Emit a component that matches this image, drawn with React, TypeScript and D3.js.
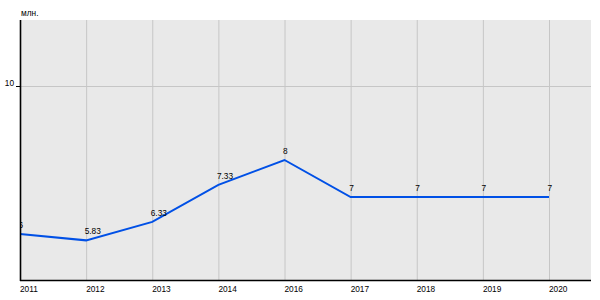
import React from "react";
import * as d3 from "d3";

const categories = ["2011", "2012", "2013", "2014", "2016", "2017", "2018", "2019", "2020"];
const values = [6, 5.83, 6.33, 7.33, 8, 7, 7, 7, 7];
const valueLabels = ["6", "5.83", "6.33", "7.33", "8", "7", "7", "7", "7"];
const yTicks = [10];
const yDomain = [4.76, 11.78];
const unitLabel = "млн.";

const W = 600;
const H = 300;
const left = 20;
const right = 591;
const top = 20;
const bottom = 280;
const fs = 8.3;

export default function App() {
  const x = d3.scalePoint<string>().domain(categories).range([left, 549]);
  const y = d3.scaleLinear().domain(yDomain).range([bottom, top]);
  const line = d3
    .line<number>()
    .x((_, i) => x(categories[i]) as number)
    .y((d) => y(d));
  const font = "Arial, 'Liberation Sans', sans-serif";
  return (
    <div style={{ position: "absolute", left: 0, top: 0 }}>
      <svg width={W} height={H} style={{ display: "block" }} fontFamily={font}>
        <defs>
          <clipPath id="plotClip">
            <rect x={left} y={top} width={right - left} height={bottom - top} />
          </clipPath>
        </defs>
        <rect x={left} y={top} width={right - left} height={bottom - top} fill="#e9e9e9" />
        {categories.map((c, i) =>
          i === 0 ? null : (
            <line
              key={c}
              x1={(x(c) as number) + 0.5}
              x2={(x(c) as number) + 0.5}
              y1={top}
              y2={bottom}
              stroke="#c6c6c6"
              strokeWidth={1}
            />
          )
        )}
        {yTicks.map((t) => (
          <g key={t}>
            <line
              x1={left}
              x2={right}
              y1={Math.round(y(t)) + 0.5}
              y2={Math.round(y(t)) + 0.5}
              stroke="#c6c6c6"
              strokeWidth={1}
            />
            <line
              x1={16}
              x2={left}
              y1={Math.round(y(t)) + 0.5}
              y2={Math.round(y(t)) + 0.5}
              stroke="#000"
              strokeWidth={1}
            />
            <text x={14} y={y(t) - 0.3} fontSize={fs} textAnchor="end" fill="#000">
              {t}
            </text>
          </g>
        ))}
        <g clipPath="url(#plotClip)">
          <path d={line(values) || ""} fill="none" stroke="#0050e6" strokeWidth={2} />
          {values.map((v, i) => (
            <text
              key={i}
              x={(x(categories[i]) as number) - 1.5}
              y={y(v) - 6}
              fontSize={fs}
              fill="#000"
            >
              {valueLabels[i]}
            </text>
          ))}
        </g>
        <line x1={left + 0.5} x2={left + 0.5} y1={top} y2={bottom + 1} stroke="#000" strokeWidth={1.6} />
        <line x1={left} x2={right} y1={bottom + 0.5} y2={bottom + 0.5} stroke="#000" strokeWidth={1.6} />
        {categories.map((c) => (
          <text key={c} x={x(c) as number} y={292} fontSize={fs} fill="#000">
            {c}
          </text>
        ))}
        <text x={21} y={15.5} fontSize={fs} fill="#000">
          {unitLabel}
        </text>
      </svg>
    </div>
  );
}
